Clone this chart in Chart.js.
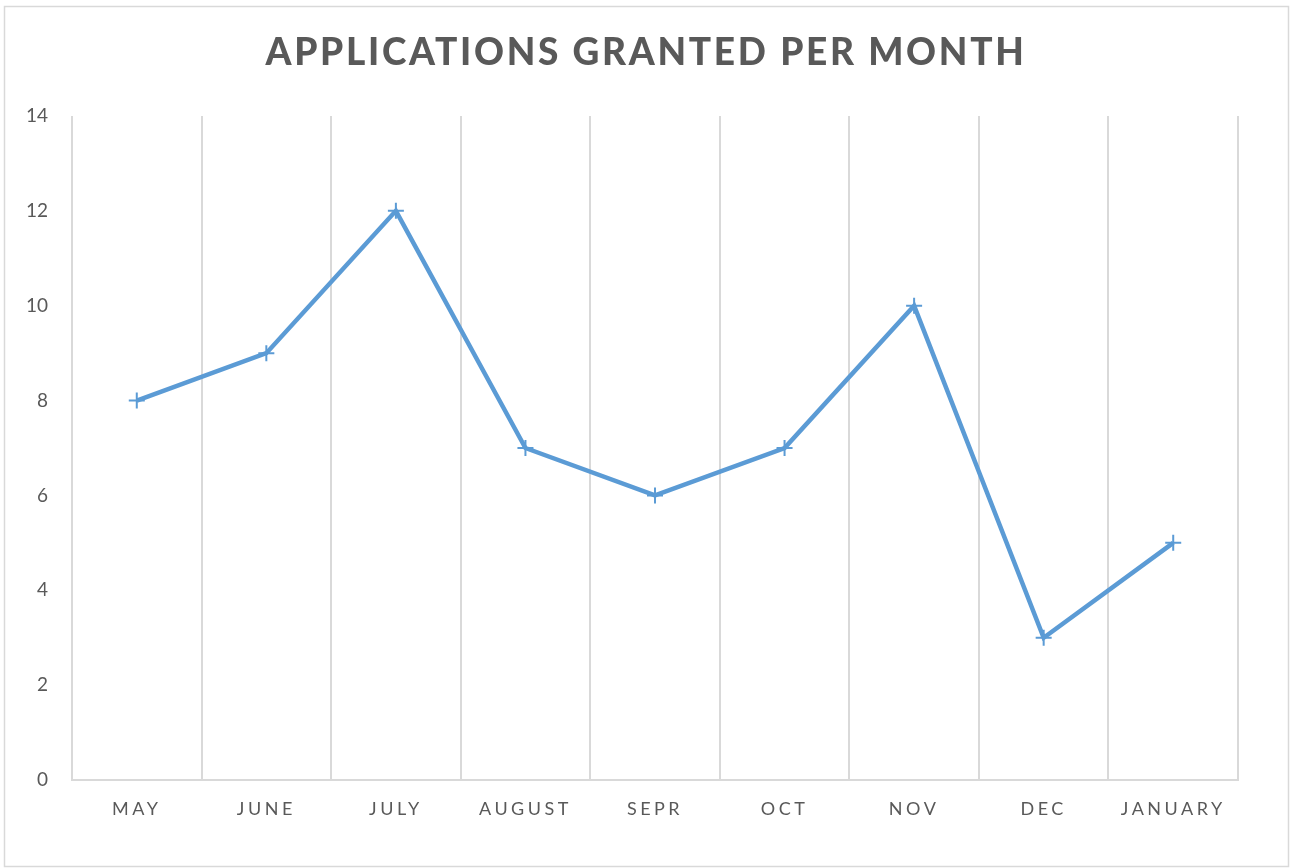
<!DOCTYPE html>
<html>
<head>
<meta charset="utf-8">
<script src="https://cdn.jsdelivr.net/npm/chart.js@4.4.1/dist/chart.umd.min.js"></script>
<style>
  html, body { margin: 0; padding: 0; background: #fff; }
  #wrap { position: relative; width: 1291px; height: 868px; }
</style>
</head>
<body>
<div id="wrap"><canvas id="chart" width="1291" height="868"></canvas></div>
<script>
// Data
var TITLE = 'APPLICATIONS GRANTED PER MONTH';
var months = ['MAY', 'JUNE', 'JULY', 'AUGUST', 'SEPR', 'OCT', 'NOV', 'DEC', 'JANUARY'];
var granted = [8, 9, 12, 7, 6, 7, 10, 3, 5];
var yTicks = [0, 2, 4, 6, 8, 10, 12, 14];

var BLUE = '#5B9BD5';
var GREY_TEXT = '#595959';
var GRID = '#d9d9d9';
var FONT = 'Lato, "Open Sans", sans-serif';

// frame, title and letter spaced tick labels
var framePlugin = {
  id: 'frame',
  beforeDraw: function(chart) {
    var ctx = chart.ctx;
    ctx.save();
    ctx.fillStyle = '#fff';
    ctx.fillRect(0, 0, chart.width, chart.height);
    ctx.strokeStyle = GRID;
    ctx.lineWidth = 1.5;
    ctx.strokeRect(4.5, 6.5, chart.width - 7, chart.height - 8);
    ctx.restore();
  },
  afterLayout: function(chart) {
    var xs = chart.scales.x;
    if (!xs._spaced) {
      var orig = xs.drawLabels;
      xs.drawLabels = function(area) {
        this.ctx.save();
        this.ctx.letterSpacing = '3.5px';
        orig.call(this, area);
        this.ctx.restore();
      };
      xs._spaced = true;
    }
  },
  afterDraw: function(chart) {
    var ctx = chart.ctx;
    ctx.save();
    ctx.letterSpacing = '2.7px';
    ctx.font = '900 37px ' + FONT;
    ctx.fillStyle = GREY_TEXT;
    ctx.textAlign = 'center';
    ctx.textBaseline = 'middle';
    ctx.fillText(TITLE, 646, 53);
    ctx.restore();
  }
};

new Chart(document.getElementById('chart'), {
  type: 'line',
  data: {
    labels: months,
    datasets: [{
      label: 'Granted',
      data: granted,
      borderColor: BLUE,
      backgroundColor: BLUE,
      borderWidth: 4.5,
      pointStyle: 'cross',
      pointRadius: 8,
      pointBorderWidth: 2,
      pointBorderColor: BLUE,
      tension: 0
    }]
  },
  plugins: [framePlugin],
  options: {
    responsive: false,
    animation: false,
    layout: { padding: { top: 116, right: 53, bottom: 0, left: 0 } },
    plugins: {
      legend: { display: false },
      title: { display: false },
      tooltip: { enabled: false }
    },
    scales: {
      x: {
        offset: true,
        grid: { offset: true, color: GRID, lineWidth: 2, drawTicks: false },
        border: { color: GRID, width: 2 },
        ticks: { color: GREY_TEXT, font: { family: FONT, size: 18 }, padding: 18, maxRotation: 0 },
        afterFit: function(scale) { scale.height = 88; }
      },
      y: {
        min: 0,
        max: 14,
        afterBuildTicks: function(scale) {
          scale.ticks = yTicks.map(function(v) { return { value: v }; });
        },
        grid: { display: false, drawTicks: false },
        border: { display: false },
        ticks: { color: GREY_TEXT, font: { family: FONT, size: 19 }, padding: 24 },
        afterFit: function(scale) { scale.width = 72; }
      }
    }
  }
});
</script>
</body>
</html>
